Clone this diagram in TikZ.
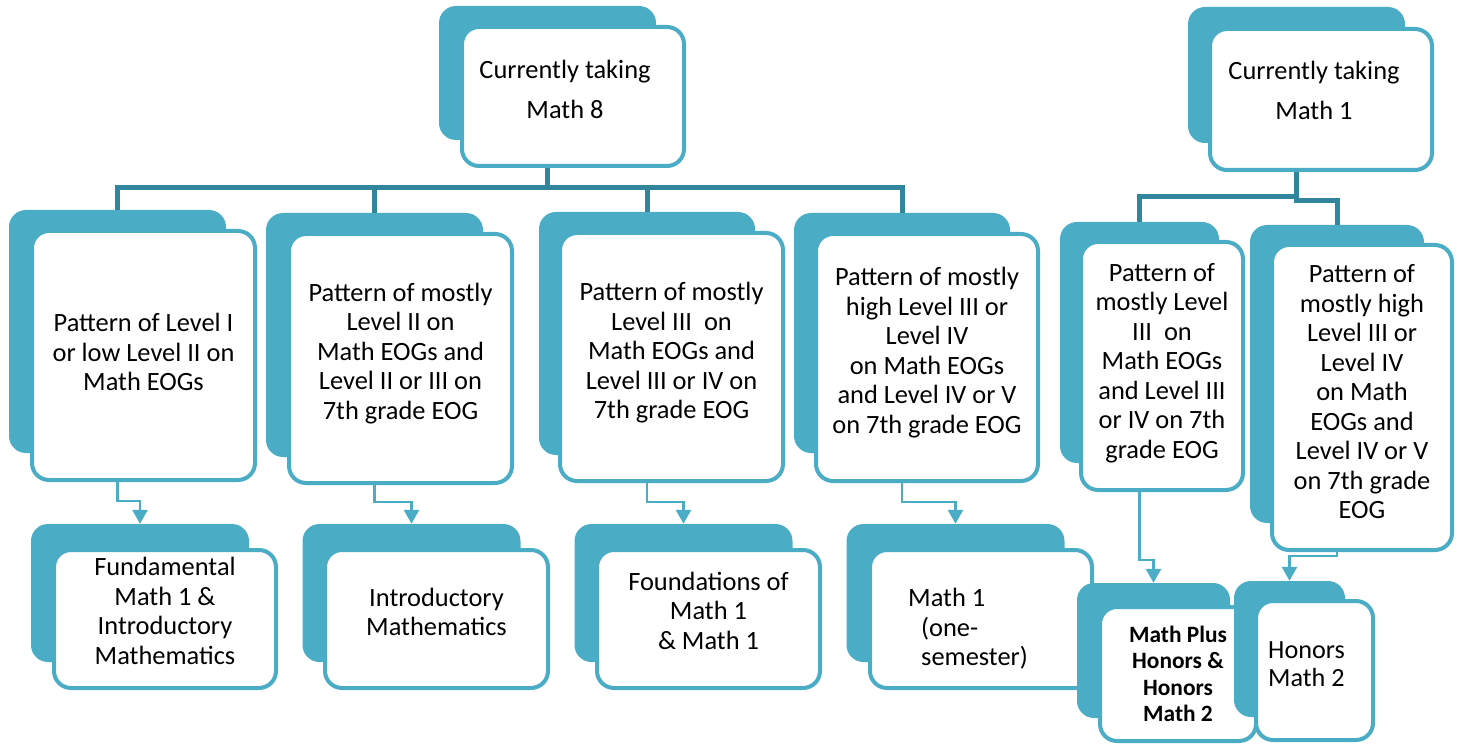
\documentclass[tikz,border=0pt]{standalone}
\usepackage{fontspec}
\setmainfont{Carlito}
\usetikzlibrary{arrows.meta,calc}

\definecolor{aqua}{HTML}{4BACC6}
\definecolor{aquadk}{HTML}{31859C}

\begin{document}
\begin{tikzpicture}[x=1pt,y=-1pt,>={Triangle[width=15pt,length=14pt]},
 every node/.style={font=\fontsize{26.4}{29.5}\selectfont},
 back/.style={fill=aqua,rounded corners=17pt,inner sep=0pt},
 box/.style={draw=aqua,line width=4pt,fill=white,rounded corners=17pt,
 align=center,inner sep=0pt},
 bus/.style={draw=aquadk,line width=5pt},
 go/.style={draw=aqua,line width=2.5pt,->}]
\useasboundingbox (0,0) rectangle (1460,746);
% top row
\node[back,minimum width=217,minimum height=134] (t8b) at (547.5,73) {};
\node[box,minimum width=222,minimum height=139,text depth=14,
 font=\fontsize{26.4}{40}\selectfont] (t8) at (573,96.5)
 {Currently taking\hspace*{16pt}\\Math 8\hspace*{16pt}};
\node[back,minimum width=217,minimum height=136] (t1b) at (1296.5,75) {};
\node[box,minimum width=222,minimum height=141,text depth=19,
 font=\fontsize{26.4}{40}\selectfont] (t1) at (1321,99.5)
 {Currently taking\hspace*{14pt}\\Math 1\hspace*{14pt}};
% patterns
\node[back,minimum width=217,minimum height=243] (b1b) at (117.5,331.5) {};
\node[box,minimum width=223,minimum height=249,text depth=7] (b1) at (143.5,355.5)
 {Pattern of Level I\\or low Level II on\\Math EOGs};
\node[back,minimum width=217,minimum height=244] (b2b) at (374.5,335) {};
\node[box,minimum width=223,minimum height=249,text depth=15] (b2) at (400.5,358.5)
 {Pattern of mostly\\Level II on\\Math EOGs and\\Level II or III on\\7th grade EOG};
\node[back,minimum width=216,minimum height=243] (b3b) at (647,333.5) {};
\node[box,minimum width=223,minimum height=248,text depth=13] (b3) at (671.5,357)
 {Pattern of mostly\\Level III\ \ on\\Math EOGs and\\Level III or IV on\\7th grade EOG};
\node[back,minimum width=216,minimum height=240] (b4b) at (902,333) {};
\node[box,minimum width=222,minimum height=247,text depth=14] (b4) at (927,357.5)
 {Pattern of mostly\\high Level III or\\Level IV\\on Math EOGs\\and Level IV or V\\on 7th grade EOG};
\node[back,minimum width=159,minimum height=241] (b5b) at (1139.5,342.5) {};
\node[box,minimum width=162,minimum height=248,text depth=11] (b5) at (1162,366)
 {Pattern of\\mostly Level\\III\ \ on\\Math EOGs\\and Level III\\or IV on 7th\\grade EOG};
\node[back,minimum width=174,minimum height=298] (b6b) at (1337,374) {};
\node[box,minimum width=180,minimum height=305,text depth=12] (b6) at (1362,397.5)
 {Pattern of\\mostly high\\Level III or\\Level IV\\on Math\\EOGs and\\Level IV or V\\on 7th grade\\EOG};
% courses
\node[back,minimum width=218,minimum height=138] (c1b) at (140,593) {};
\node[box,minimum width=222,minimum height=138,text depth=16] (c1) at (165,619)
 {Fundamental\\Math 1 \&\\Introductory\\Mathematics};
\node[back,minimum width=218,minimum height=138] (c2b) at (411.5,593) {};
\node[box,minimum width=223,minimum height=138,text depth=14] (c2) at (436.5,619)
 {Introductory\\Mathematics};
\node[back,minimum width=218,minimum height=138] (c3b) at (683.5,593) {};
\node[box,minimum width=223,minimum height=138,text depth=17] (c3) at (708.5,619)
 {Foundations of\\Math 1\\\& Math 1};
\node[back,minimum width=218,minimum height=138] (c4b) at (955.5,593) {};
\node[box,minimum width=222,minimum height=138,align=left,text height=97]
 (c4) at (981,619)
 {Math 1\\\hspace*{13pt}(one-\\\hspace*{13pt}semester)\hspace*{26pt}};
\node[back,minimum width=153,minimum height=135] (d1b) at (1153.5,650.5) {};
\node[box,minimum width=156,minimum height=134,
 font=\fontsize{23.4}{26.5}\selectfont\bfseries] (d1) at (1178,674)
 {Math Plus\\Honors \&\\Honors\\Math 2};
\node[back,minimum width=111,minimum height=136] (d2b) at (1289.5,649) {};
\node[box,minimum width=117,minimum height=139,align=left,text depth=13,
 font=\fontsize{26.2}{28}\selectfont] (d2) at (1314.5,670.5)
 {Honors\hspace*{16pt}\\Math 2};
% tree lines
\foreach \n in {b1b,b2b,b3b,b4b}
 \draw[bus] (t8b |- t8.south) -- ++(0,20) -| (\n.north);
\draw[bus] (t1b |- t1.south) -- ++(0,25) -| (b5b.north);
\draw[bus] (t1b |- t1.south) -- ++(0,29) -| (b6b.north);
% arrows
\draw[go] (b1b |- b1.south) -- ++(0,19) -| (c1b.north);
\draw[go] (b2b |- b2.south) -- ++(0,17) -| (c2b.north);
\draw[go] (b3b |- b3.south) -- ++(0,19) -| (c3b.north);
\draw[go] (b4b |- b4.south) -- ++(0,19) -| (c4b.north);
\draw[go] (b5b |- b5.south) -- ++(0,68) -| (d1b.north);
\draw[go] (b6b |- b6.south) -- ++(0,4) -| (d2b.north);
\end{tikzpicture}
\end{document}
